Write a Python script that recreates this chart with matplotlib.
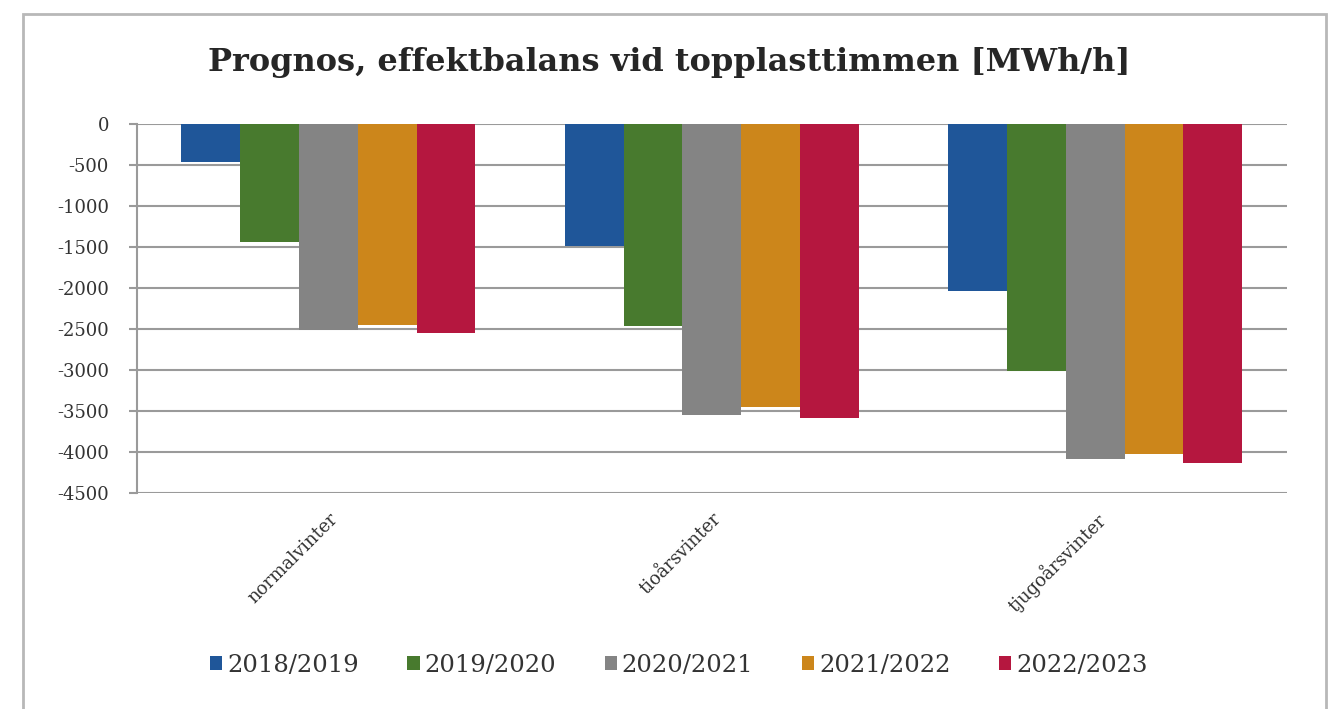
import numpy as np
import matplotlib.pyplot as plt
from matplotlib.patches import Rectangle

# Werte
kategorien = ["normalvinter", "tioårsvinter", "tjugoårsvinter"]
serien = ["2018/2019", "2019/2020", "2020/2021", "2021/2022", "2022/2023"]
v2018 = [-460, -1490, -2030]
v2019 = [-1430, -2460, -3010]
v2020 = [-2510, -3540, -4080]
v2021 = [-2450, -3450, -4020]
v2022 = [-2540, -3580, -4130]
yticks = list(range(0, -4501, -500))

werte = [v2018, v2019, v2020, v2021, v2022]
farben = ["#1f5699", "#487a2e", "#848484", "#cc861b", "#b5173f"]

plt.rcParams['font.family'] = ['DejaVu Serif']

fig = plt.figure(figsize=(13.39, 7.09), dpi=100)
ax = fig.add_axes([0.1021, 0.3042, 0.8589, 0.5205])

# Rahmen um das Diagramm
fig.patches.append(Rectangle((23 / 1339, -0.05), 1303 / 1339, 1 - 14 / 709 + 0.05,
                             transform=fig.transFigure, fill=False,
                             edgecolor="#b8b8b8", linewidth=2))

x = np.arange(len(kategorien))
b = 0.1534
for i, (s, v) in enumerate(zip(serien, werte)):
    ax.bar(x + (i - 2) * b, v, width=b, color=farben[i], label=s, zorder=3)

ax.set_xlim(-0.5, 2.5)
ax.set_ylim(-4500, 0)
ax.set_yticks(yticks)
ax.set_yticklabels([str(t) for t in yticks], fontsize=13, color="#333333")
ax.yaxis.grid(True, color="#9a9a9a", linewidth=1.5, zorder=0)
ax.tick_params(axis='y', length=6, color="#9a9a9a", width=1.5, pad=14)
for sp in ["top", "right", "bottom"]:
    ax.spines[sp].set_visible(False)
ax.spines["left"].set_color("#9a9a9a")
ax.spines["left"].set_linewidth(1.5)

ax.set_xticks(x)
ax.set_xticklabels(kategorien, rotation=45, ha='right', va='top',
                   rotation_mode='anchor', fontsize=13, color="#333333")
ax.tick_params(axis='x', length=0, pad=12)

fig.text(0.5, 1 - 62 / 709, "Prognos, effektbalans vid topplasttimmen [MWh/h]",
         ha='center', va='center', fontsize=23, fontweight='bold', color="#262626")

leg = ax.legend(loc='center', bbox_to_anchor=(0.507, 0.062),
                bbox_transform=fig.transFigure, ncol=5, frameon=False,
                fontsize=17.5, handlelength=0.5, handleheight=0.5,
                handletextpad=0.2, columnspacing=2.0)
for t in leg.get_texts():
    t.set_color("#333333")

fig.savefig("out.png", dpi=100)
